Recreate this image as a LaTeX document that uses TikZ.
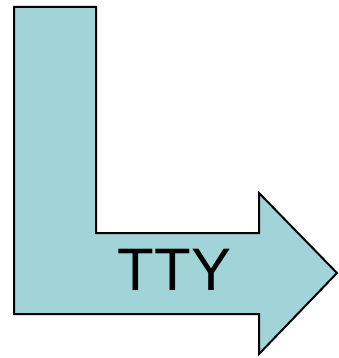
\documentclass[tikz,border=0pt]{standalone}
\usepackage{fontspec}
\setmainfont{Liberation Sans}
\usepackage{xcolor}
\usepackage{tikz}
\usetikzlibrary{positioning}
\definecolor{ttyteal}{HTML}{A1D4D8}

\begin{document}
\begin{tikzpicture}[x=1pt,y=-1pt,font=\fontsize{60}{60}\selectfont]
        \useasboundingbox (0,0) rectangle (338,358);
        \draw[fill=ttyteal,line width=2pt,line join=miter]
              (14,7) -- (96,7) -- (96,233) -- (259,233) -- (259,193)
              -- (337,273) -- (259,354) -- (259,314) -- (14,314) -- cycle;
        \node[inner sep=0pt] (tty) at (174.5,269.5) {TTY};
      \end{tikzpicture}
\end{document}
